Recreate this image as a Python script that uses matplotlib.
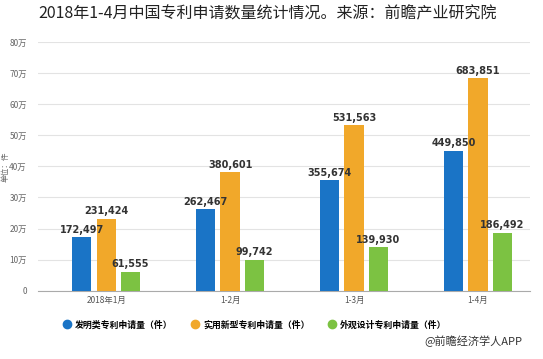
import numpy as np
import matplotlib
matplotlib.use("Agg")
import matplotlib.pyplot as plt
from matplotlib.lines import Line2D

plt.rcParams['font.family'] = ['Noto Sans CJK SC', 'DejaVu Sans']

# data
periods = ['2018年1月', '1-2月', '1-3月', '1-4月']
invention = [172497, 262467, 355674, 449850]
utility = [231424, 380601, 531563, 683851]
design = [61555, 99742, 139930, 186492]
series_names = ['发明类专利申请量（件）', '实用新型专利申请量（件）', '外观设计专利申请量（件）']
colors = ['#1a74c6', '#f1a82a', '#7cc242']
yticks = np.arange(0, 800001, 100000)
ytick_labels = ['0'] + ['%d万' % (v // 10000) for v in yticks[1:]]

fig = plt.figure(figsize=(5.43, 3.59), dpi=100, facecolor='white')
ax = fig.add_axes([0.07, 0.19, 0.906, 0.693])

x = np.arange(len(periods))
w = 0.155
step = 0.197
for i, vals in enumerate([invention, utility, design]):
    bars = ax.bar(x + (i - 1) * step, vals, width=w, color=colors[i], zorder=3)
    for b, v in zip(bars, vals):
        ax.text(b.get_x() + b.get_width() / 2, v + 8000, format(v, ','),
                ha='center', va='bottom', fontsize=7, color='#333333',
                fontweight='bold', family='DejaVu Sans', zorder=4)

ax.set_xlim(-0.55, 3.42)
ax.set_ylim(0, 800000)
ax.set_yticks(yticks)
ax.set_yticklabels(ytick_labels, fontsize=6, color='#666666')
ax.set_xticks(x)
ax.set_xticklabels(periods, fontsize=6, color='#555555')
ax.tick_params(axis='both', length=0, pad=4)
ax.tick_params(axis='y', pad=8)
ax.grid(axis='y', color='#e3e3e3', linewidth=0.8, zorder=0)
for s in ['top', 'right', 'left']:
    ax.spines[s].set_visible(False)
ax.spines['bottom'].set_color('#aaaaaa')
ax.spines['bottom'].set_linewidth(0.8)

fig.text(0.011, 0.535, '单位：件', fontsize=5.5, color='#666666',
         rotation=90, ha='center', va='center')

fig.text(0.07, 0.962, '2018年1-4月中国专利申请数量统计情况。来源：前瞻产业研究院',
         fontsize=11.5, color='#222222', ha='left', va='center')

handles = [Line2D([], [], marker='o', linestyle='', markersize=6,
                  markerfacecolor=c, markeredgecolor=c) for c in colors]
fig.legend(handles, series_names, loc='center', bbox_to_anchor=(0.468, 0.095),
           ncol=3, frameon=False, handletextpad=0.3, handlelength=1.2,
           columnspacing=1.9, prop={'weight': 'bold', 'size': 6.4})

fig.text(0.962, 0.05, '@前瞻经济学人APP', fontsize=8, color='#333333',
         ha='right', va='center')

fig.savefig('out.png', dpi=100, facecolor='white')
